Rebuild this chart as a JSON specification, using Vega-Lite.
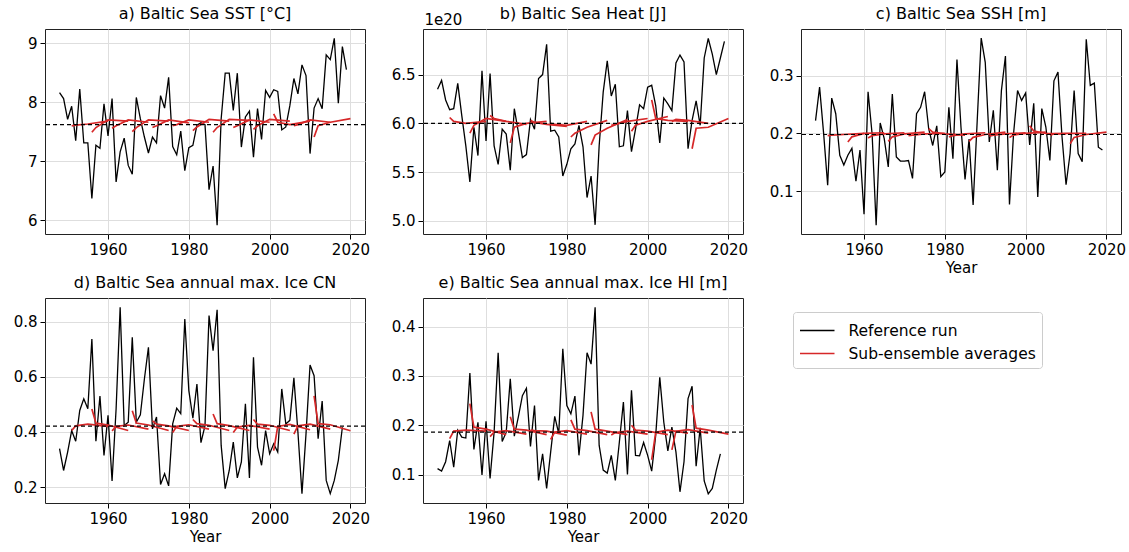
{
"$schema": "https://vega.github.io/schema/vega-lite/v6.json",
"padding": {"left": 12, "top": 5, "right": 5, "bottom": 5},
"config": {
  "font": "DejaVu Sans",
  "view": {"stroke": "#222222", "strokeWidth": 1},
  "title": {"font": "DejaVu Sans", "fontSize": 16, "fontWeight": "normal", "color": "black", "offset": 7, "baseline": "alphabetic"},
  "axis": {"labelFont": "DejaVu Sans", "labelFontSize": 15, "labelColor": "black", "tickColor": "black", "tickSize": 5, "tickWidth": 1, "labelPadding": 3, "domain": false, "grid": true, "gridColor": "#dedede", "gridWidth": 1, "titleFont": "DejaVu Sans", "titleFontSize": 15, "titleFontWeight": "normal", "titleColor": "black", "titlePadding": 3},
  "legend": {"orient": "none", "legendX": 748, "legendY": 283, "symbolType": "M-1,0L2,0", "symbolSize": 529, "symbolStrokeWidth": 1.5, "labelFont": "DejaVu Sans", "labelFontSize": 15.5, "labelColor": "black", "labelLimit": 400, "strokeColor": "#cccccc", "cornerRadius": 3, "padding": 6, "fillColor": "white", "rowPadding": 2, "labelOffset": 24.5}
},
"datasets": {
"ref": [
{"p":"a","yr":1948,"v":8.16},{"p":"a","yr":1949,"v":8.06},{"p":"a","yr":1950,"v":7.71},{"p":"a","yr":1951,"v":7.93},{"p":"a","yr":1952,"v":7.35},{"p":"a","yr":1953,"v":8.22},{"p":"a","yr":1954,"v":7.31},{"p":"a","yr":1955,"v":7.31},{"p":"a","yr":1956,"v":6.37},{"p":"a","yr":1957,"v":7.27},{"p":"a","yr":1958,"v":7.22},{"p":"a","yr":1959,"v":7.97},{"p":"a","yr":1960,"v":7.43},{"p":"a","yr":1961,"v":8.06},{"p":"a","yr":1962,"v":6.65},{"p":"a","yr":1963,"v":7.16},{"p":"a","yr":1964,"v":7.39},{"p":"a","yr":1965,"v":6.93},{"p":"a","yr":1966,"v":6.78},{"p":"a","yr":1967,"v":8.08},{"p":"a","yr":1968,"v":7.72},{"p":"a","yr":1969,"v":7.41},{"p":"a","yr":1970,"v":7.14},{"p":"a","yr":1971,"v":7.41},{"p":"a","yr":1972,"v":7.31},{"p":"a","yr":1973,"v":8.11},{"p":"a","yr":1974,"v":7.90},{"p":"a","yr":1975,"v":8.42},{"p":"a","yr":1976,"v":7.25},{"p":"a","yr":1977,"v":7.11},{"p":"a","yr":1978,"v":7.51},{"p":"a","yr":1979,"v":6.84},{"p":"a","yr":1980,"v":7.23},{"p":"a","yr":1981,"v":7.27},{"p":"a","yr":1982,"v":7.61},{"p":"a","yr":1983,"v":7.65},{"p":"a","yr":1984,"v":7.62},{"p":"a","yr":1985,"v":6.52},{"p":"a","yr":1986,"v":6.92},{"p":"a","yr":1987,"v":5.92},{"p":"a","yr":1988,"v":7.72},{"p":"a","yr":1989,"v":8.49},{"p":"a","yr":1990,"v":8.49},{"p":"a","yr":1991,"v":7.86},{"p":"a","yr":1992,"v":8.49},{"p":"a","yr":1993,"v":7.24},{"p":"a","yr":1994,"v":7.75},{"p":"a","yr":1995,"v":7.85},{"p":"a","yr":1996,"v":7.07},{"p":"a","yr":1997,"v":7.89},{"p":"a","yr":1998,"v":7.37},{"p":"a","yr":1999,"v":8.20},{"p":"a","yr":2000,"v":8.08},{"p":"a","yr":2001,"v":8.21},{"p":"a","yr":2002,"v":8.18},{"p":"a","yr":2003,"v":7.53},{"p":"a","yr":2004,"v":7.58},{"p":"a","yr":2005,"v":7.94},{"p":"a","yr":2006,"v":8.40},{"p":"a","yr":2007,"v":8.14},{"p":"a","yr":2008,"v":8.63},{"p":"a","yr":2009,"v":8.45},{"p":"a","yr":2010,"v":7.13},{"p":"a","yr":2011,"v":7.90},{"p":"a","yr":2012,"v":8.06},{"p":"a","yr":2013,"v":7.89},{"p":"a","yr":2014,"v":8.80},{"p":"a","yr":2015,"v":8.72},{"p":"a","yr":2016,"v":9.08},{"p":"a","yr":2017,"v":7.98},{"p":"a","yr":2018,"v":8.94},{"p":"a","yr":2019,"v":8.55},
{"p":"b","yr":1948,"v":6.35},{"p":"b","yr":1949,"v":6.44},{"p":"b","yr":1950,"v":6.24},{"p":"b","yr":1951,"v":6.14},{"p":"b","yr":1952,"v":6.15},{"p":"b","yr":1953,"v":6.41},{"p":"b","yr":1954,"v":6.08},{"p":"b","yr":1955,"v":5.77},{"p":"b","yr":1956,"v":5.40},{"p":"b","yr":1957,"v":5.96},{"p":"b","yr":1958,"v":5.67},{"p":"b","yr":1959,"v":6.54},{"p":"b","yr":1960,"v":5.82},{"p":"b","yr":1961,"v":6.51},{"p":"b","yr":1962,"v":5.77},{"p":"b","yr":1963,"v":5.58},{"p":"b","yr":1964,"v":5.94},{"p":"b","yr":1965,"v":5.89},{"p":"b","yr":1966,"v":5.52},{"p":"b","yr":1967,"v":6.15},{"p":"b","yr":1968,"v":5.91},{"p":"b","yr":1969,"v":5.65},{"p":"b","yr":1970,"v":5.68},{"p":"b","yr":1971,"v":6.04},{"p":"b","yr":1972,"v":5.94},{"p":"b","yr":1973,"v":6.46},{"p":"b","yr":1974,"v":6.50},{"p":"b","yr":1975,"v":6.81},{"p":"b","yr":1976,"v":5.92},{"p":"b","yr":1977,"v":5.93},{"p":"b","yr":1978,"v":5.86},{"p":"b","yr":1979,"v":5.46},{"p":"b","yr":1980,"v":5.58},{"p":"b","yr":1981,"v":5.74},{"p":"b","yr":1982,"v":5.79},{"p":"b","yr":1983,"v":5.98},{"p":"b","yr":1984,"v":5.76},{"p":"b","yr":1985,"v":5.24},{"p":"b","yr":1986,"v":5.46},{"p":"b","yr":1987,"v":4.96},{"p":"b","yr":1988,"v":5.77},{"p":"b","yr":1989,"v":6.32},{"p":"b","yr":1990,"v":6.64},{"p":"b","yr":1991,"v":6.28},{"p":"b","yr":1992,"v":6.40},{"p":"b","yr":1993,"v":5.76},{"p":"b","yr":1994,"v":5.77},{"p":"b","yr":1995,"v":6.13},{"p":"b","yr":1996,"v":5.71},{"p":"b","yr":1997,"v":5.94},{"p":"b","yr":1998,"v":6.19},{"p":"b","yr":1999,"v":6.15},{"p":"b","yr":2000,"v":6.37},{"p":"b","yr":2001,"v":6.39},{"p":"b","yr":2002,"v":6.18},{"p":"b","yr":2003,"v":5.80},{"p":"b","yr":2004,"v":6.26},{"p":"b","yr":2005,"v":6.20},{"p":"b","yr":2006,"v":6.13},{"p":"b","yr":2007,"v":6.62},{"p":"b","yr":2008,"v":6.70},{"p":"b","yr":2009,"v":6.63},{"p":"b","yr":2010,"v":5.74},{"p":"b","yr":2011,"v":6.03},{"p":"b","yr":2012,"v":6.23},{"p":"b","yr":2013,"v":5.98},{"p":"b","yr":2014,"v":6.67},{"p":"b","yr":2015,"v":6.87},{"p":"b","yr":2016,"v":6.71},{"p":"b","yr":2017,"v":6.50},{"p":"b","yr":2018,"v":6.67},{"p":"b","yr":2019,"v":6.84},
{"p":"c","yr":1948,"v":0.222},{"p":"c","yr":1949,"v":0.280},{"p":"c","yr":1950,"v":0.200},{"p":"c","yr":1951,"v":0.110},{"p":"c","yr":1952,"v":0.261},{"p":"c","yr":1953,"v":0.234},{"p":"c","yr":1954,"v":0.162},{"p":"c","yr":1955,"v":0.145},{"p":"c","yr":1956,"v":0.162},{"p":"c","yr":1957,"v":0.174},{"p":"c","yr":1958,"v":0.117},{"p":"c","yr":1959,"v":0.171},{"p":"c","yr":1960,"v":0.060},{"p":"c","yr":1961,"v":0.272},{"p":"c","yr":1962,"v":0.199},{"p":"c","yr":1963,"v":0.041},{"p":"c","yr":1964,"v":0.218},{"p":"c","yr":1965,"v":0.191},{"p":"c","yr":1966,"v":0.142},{"p":"c","yr":1967,"v":0.268},{"p":"c","yr":1968,"v":0.159},{"p":"c","yr":1969,"v":0.152},{"p":"c","yr":1970,"v":0.152},{"p":"c","yr":1971,"v":0.153},{"p":"c","yr":1972,"v":0.122},{"p":"c","yr":1973,"v":0.234},{"p":"c","yr":1974,"v":0.245},{"p":"c","yr":1975,"v":0.272},{"p":"c","yr":1976,"v":0.208},{"p":"c","yr":1977,"v":0.179},{"p":"c","yr":1978,"v":0.213},{"p":"c","yr":1979,"v":0.125},{"p":"c","yr":1980,"v":0.133},{"p":"c","yr":1981,"v":0.245},{"p":"c","yr":1982,"v":0.156},{"p":"c","yr":1983,"v":0.328},{"p":"c","yr":1984,"v":0.210},{"p":"c","yr":1985,"v":0.120},{"p":"c","yr":1986,"v":0.190},{"p":"c","yr":1987,"v":0.076},{"p":"c","yr":1988,"v":0.220},{"p":"c","yr":1989,"v":0.365},{"p":"c","yr":1990,"v":0.323},{"p":"c","yr":1991,"v":0.185},{"p":"c","yr":1992,"v":0.240},{"p":"c","yr":1993,"v":0.136},{"p":"c","yr":1994,"v":0.274},{"p":"c","yr":1995,"v":0.334},{"p":"c","yr":1996,"v":0.077},{"p":"c","yr":1997,"v":0.199},{"p":"c","yr":1998,"v":0.274},{"p":"c","yr":1999,"v":0.257},{"p":"c","yr":2000,"v":0.270},{"p":"c","yr":2001,"v":0.180},{"p":"c","yr":2002,"v":0.252},{"p":"c","yr":2003,"v":0.090},{"p":"c","yr":2004,"v":0.243},{"p":"c","yr":2005,"v":0.211},{"p":"c","yr":2006,"v":0.153},{"p":"c","yr":2007,"v":0.291},{"p":"c","yr":2008,"v":0.306},{"p":"c","yr":2009,"v":0.194},{"p":"c","yr":2010,"v":0.111},{"p":"c","yr":2011,"v":0.165},{"p":"c","yr":2012,"v":0.274},{"p":"c","yr":2013,"v":0.165},{"p":"c","yr":2014,"v":0.151},{"p":"c","yr":2015,"v":0.363},{"p":"c","yr":2016,"v":0.283},{"p":"c","yr":2017,"v":0.287},{"p":"c","yr":2018,"v":0.176},{"p":"c","yr":2019,"v":0.171},
{"p":"d","yr":1948,"v":0.339},{"p":"d","yr":1949,"v":0.260},{"p":"d","yr":1950,"v":0.327},{"p":"d","yr":1951,"v":0.405},{"p":"d","yr":1952,"v":0.366},{"p":"d","yr":1953,"v":0.478},{"p":"d","yr":1954,"v":0.520},{"p":"d","yr":1955,"v":0.484},{"p":"d","yr":1956,"v":0.737},{"p":"d","yr":1957,"v":0.366},{"p":"d","yr":1958,"v":0.530},{"p":"d","yr":1959,"v":0.315},{"p":"d","yr":1960,"v":0.460},{"p":"d","yr":1961,"v":0.222},{"p":"d","yr":1962,"v":0.484},{"p":"d","yr":1963,"v":0.852},{"p":"d","yr":1964,"v":0.423},{"p":"d","yr":1965,"v":0.435},{"p":"d","yr":1966,"v":0.743},{"p":"d","yr":1967,"v":0.435},{"p":"d","yr":1968,"v":0.462},{"p":"d","yr":1969,"v":0.592},{"p":"d","yr":1970,"v":0.707},{"p":"d","yr":1971,"v":0.411},{"p":"d","yr":1972,"v":0.454},{"p":"d","yr":1973,"v":0.209},{"p":"d","yr":1974,"v":0.248},{"p":"d","yr":1975,"v":0.204},{"p":"d","yr":1976,"v":0.429},{"p":"d","yr":1977,"v":0.486},{"p":"d","yr":1978,"v":0.466},{"p":"d","yr":1979,"v":0.810},{"p":"d","yr":1980,"v":0.550},{"p":"d","yr":1981,"v":0.450},{"p":"d","yr":1982,"v":0.574},{"p":"d","yr":1983,"v":0.361},{"p":"d","yr":1984,"v":0.423},{"p":"d","yr":1985,"v":0.822},{"p":"d","yr":1986,"v":0.695},{"p":"d","yr":1987,"v":0.843},{"p":"d","yr":1988,"v":0.351},{"p":"d","yr":1989,"v":0.194},{"p":"d","yr":1990,"v":0.260},{"p":"d","yr":1991,"v":0.363},{"p":"d","yr":1992,"v":0.233},{"p":"d","yr":1993,"v":0.291},{"p":"d","yr":1994,"v":0.502},{"p":"d","yr":1995,"v":0.233},{"p":"d","yr":1996,"v":0.671},{"p":"d","yr":1997,"v":0.345},{"p":"d","yr":1998,"v":0.279},{"p":"d","yr":1999,"v":0.405},{"p":"d","yr":2000,"v":0.321},{"p":"d","yr":2001,"v":0.357},{"p":"d","yr":2002,"v":0.327},{"p":"d","yr":2003,"v":0.556},{"p":"d","yr":2004,"v":0.429},{"p":"d","yr":2005,"v":0.442},{"p":"d","yr":2006,"v":0.596},{"p":"d","yr":2007,"v":0.399},{"p":"d","yr":2008,"v":0.176},{"p":"d","yr":2009,"v":0.393},{"p":"d","yr":2010,"v":0.643},{"p":"d","yr":2011,"v":0.604},{"p":"d","yr":2012,"v":0.375},{"p":"d","yr":2013,"v":0.512},{"p":"d","yr":2014,"v":0.224},{"p":"d","yr":2015,"v":0.176},{"p":"d","yr":2016,"v":0.224},{"p":"d","yr":2017,"v":0.297},{"p":"d","yr":2018,"v":0.417},
{"p":"e","yr":1948,"v":0.112},{"p":"e","yr":1949,"v":0.107},{"p":"e","yr":1950,"v":0.126},{"p":"e","yr":1951,"v":0.169},{"p":"e","yr":1952,"v":0.115},{"p":"e","yr":1953,"v":0.190},{"p":"e","yr":1954,"v":0.176},{"p":"e","yr":1955,"v":0.174},{"p":"e","yr":1956,"v":0.306},{"p":"e","yr":1957,"v":0.151},{"p":"e","yr":1958,"v":0.206},{"p":"e","yr":1959,"v":0.099},{"p":"e","yr":1960,"v":0.208},{"p":"e","yr":1961,"v":0.092},{"p":"e","yr":1962,"v":0.186},{"p":"e","yr":1963,"v":0.347},{"p":"e","yr":1964,"v":0.167},{"p":"e","yr":1965,"v":0.186},{"p":"e","yr":1966,"v":0.294},{"p":"e","yr":1967,"v":0.178},{"p":"e","yr":1968,"v":0.217},{"p":"e","yr":1969,"v":0.260},{"p":"e","yr":1970,"v":0.275},{"p":"e","yr":1971,"v":0.157},{"p":"e","yr":1972,"v":0.240},{"p":"e","yr":1973,"v":0.088},{"p":"e","yr":1974,"v":0.142},{"p":"e","yr":1975,"v":0.072},{"p":"e","yr":1976,"v":0.146},{"p":"e","yr":1977,"v":0.218},{"p":"e","yr":1978,"v":0.183},{"p":"e","yr":1979,"v":0.355},{"p":"e","yr":1980,"v":0.240},{"p":"e","yr":1981,"v":0.223},{"p":"e","yr":1982,"v":0.259},{"p":"e","yr":1983,"v":0.139},{"p":"e","yr":1984,"v":0.220},{"p":"e","yr":1985,"v":0.347},{"p":"e","yr":1986,"v":0.324},{"p":"e","yr":1987,"v":0.439},{"p":"e","yr":1988,"v":0.159},{"p":"e","yr":1989,"v":0.109},{"p":"e","yr":1990,"v":0.103},{"p":"e","yr":1991,"v":0.139},{"p":"e","yr":1992,"v":0.088},{"p":"e","yr":1993,"v":0.166},{"p":"e","yr":1994,"v":0.247},{"p":"e","yr":1995,"v":0.100},{"p":"e","yr":1996,"v":0.271},{"p":"e","yr":1997,"v":0.139},{"p":"e","yr":1998,"v":0.138},{"p":"e","yr":1999,"v":0.165},{"p":"e","yr":2000,"v":0.139},{"p":"e","yr":2001,"v":0.107},{"p":"e","yr":2002,"v":0.180},{"p":"e","yr":2003,"v":0.297},{"p":"e","yr":2004,"v":0.206},{"p":"e","yr":2005,"v":0.148},{"p":"e","yr":2006,"v":0.196},{"p":"e","yr":2007,"v":0.146},{"p":"e","yr":2008,"v":0.065},{"p":"e","yr":2009,"v":0.126},{"p":"e","yr":2010,"v":0.254},{"p":"e","yr":2011,"v":0.279},{"p":"e","yr":2012,"v":0.117},{"p":"e","yr":2013,"v":0.195},{"p":"e","yr":2014,"v":0.087},{"p":"e","yr":2015,"v":0.061},{"p":"e","yr":2016,"v":0.072},{"p":"e","yr":2017,"v":0.109},{"p":"e","yr":2018,"v":0.142}
],
"sub": [
{"p":"a","s":1951,"yr":1951,"v":7.60},{"p":"a","s":1951,"yr":1952,"v":7.61},{"p":"a","s":1951,"yr":1955,"v":7.63},{"p":"a","s":1951,"yr":1960,"v":7.68},
{"p":"a","s":1956,"yr":1956,"v":7.49},{"p":"a","s":1956,"yr":1957,"v":7.57},{"p":"a","s":1956,"yr":1960,"v":7.70},{"p":"a","s":1956,"yr":1965,"v":7.68},
{"p":"a","s":1961,"yr":1961,"v":7.56},{"p":"a","s":1961,"yr":1962,"v":7.60},{"p":"a","s":1961,"yr":1965,"v":7.70},{"p":"a","s":1961,"yr":1970,"v":7.66},
{"p":"a","s":1966,"yr":1966,"v":7.50},{"p":"a","s":1966,"yr":1967,"v":7.57},{"p":"a","s":1966,"yr":1970,"v":7.70},{"p":"a","s":1966,"yr":1975,"v":7.68},
{"p":"a","s":1971,"yr":1971,"v":7.57},{"p":"a","s":1971,"yr":1972,"v":7.60},{"p":"a","s":1971,"yr":1975,"v":7.70},{"p":"a","s":1971,"yr":1980,"v":7.65},
{"p":"a","s":1976,"yr":1976,"v":7.60},{"p":"a","s":1976,"yr":1977,"v":7.62},{"p":"a","s":1976,"yr":1980,"v":7.70},{"p":"a","s":1976,"yr":1985,"v":7.66},
{"p":"a","s":1981,"yr":1981,"v":7.52},{"p":"a","s":1981,"yr":1982,"v":7.58},{"p":"a","s":1981,"yr":1985,"v":7.71},{"p":"a","s":1981,"yr":1990,"v":7.68},
{"p":"a","s":1986,"yr":1986,"v":7.49},{"p":"a","s":1986,"yr":1987,"v":7.57},{"p":"a","s":1986,"yr":1990,"v":7.71},{"p":"a","s":1986,"yr":1995,"v":7.69},
{"p":"a","s":1991,"yr":1991,"v":7.57},{"p":"a","s":1991,"yr":1992,"v":7.60},{"p":"a","s":1991,"yr":1995,"v":7.70},{"p":"a","s":1991,"yr":2000,"v":7.66},
{"p":"a","s":1996,"yr":1996,"v":7.54},{"p":"a","s":1996,"yr":1997,"v":7.60},{"p":"a","s":1996,"yr":2000,"v":7.71},{"p":"a","s":1996,"yr":2005,"v":7.68},
{"p":"a","s":2001,"yr":2001,"v":7.80},{"p":"a","s":2001,"yr":2002,"v":7.66},{"p":"a","s":2001,"yr":2005,"v":7.62},{"p":"a","s":2001,"yr":2010,"v":7.68},
{"p":"a","s":2006,"yr":2006,"v":7.60},{"p":"a","s":2006,"yr":2007,"v":7.62},{"p":"a","s":2006,"yr":2010,"v":7.70},{"p":"a","s":2006,"yr":2015,"v":7.66},
{"p":"a","s":2011,"yr":2011,"v":7.41},{"p":"a","s":2011,"yr":2012,"v":7.60},{"p":"a","s":2011,"yr":2015,"v":7.66},{"p":"a","s":2011,"yr":2020,"v":7.72},
{"p":"b","s":1951,"yr":1951,"v":6.06},{"p":"b","s":1951,"yr":1952,"v":6.02},{"p":"b","s":1951,"yr":1955,"v":6.00},{"p":"b","s":1951,"yr":1960,"v":6.02},
{"p":"b","s":1956,"yr":1956,"v":5.90},{"p":"b","s":1956,"yr":1957,"v":5.98},{"p":"b","s":1956,"yr":1960,"v":6.05},{"p":"b","s":1956,"yr":1965,"v":6.02},
{"p":"b","s":1961,"yr":1961,"v":6.08},{"p":"b","s":1961,"yr":1962,"v":6.05},{"p":"b","s":1961,"yr":1965,"v":6.02},{"p":"b","s":1961,"yr":1970,"v":5.99},
{"p":"b","s":1966,"yr":1966,"v":5.80},{"p":"b","s":1966,"yr":1967,"v":5.96},{"p":"b","s":1966,"yr":1970,"v":6.00},{"p":"b","s":1966,"yr":1975,"v":6.02},
{"p":"b","s":1971,"yr":1971,"v":6.03},{"p":"b","s":1971,"yr":1972,"v":6.01},{"p":"b","s":1971,"yr":1975,"v":5.99},{"p":"b","s":1971,"yr":1980,"v":5.97},
{"p":"b","s":1976,"yr":1976,"v":6.00},{"p":"b","s":1976,"yr":1977,"v":5.99},{"p":"b","s":1976,"yr":1980,"v":5.98},{"p":"b","s":1976,"yr":1985,"v":6.02},
{"p":"b","s":1981,"yr":1981,"v":5.86},{"p":"b","s":1981,"yr":1982,"v":5.90},{"p":"b","s":1981,"yr":1985,"v":5.96},{"p":"b","s":1981,"yr":1990,"v":6.03},
{"p":"b","s":1986,"yr":1986,"v":5.78},{"p":"b","s":1986,"yr":1987,"v":5.88},{"p":"b","s":1986,"yr":1990,"v":5.95},{"p":"b","s":1986,"yr":1995,"v":6.04},
{"p":"b","s":1991,"yr":1991,"v":5.98},{"p":"b","s":1991,"yr":1992,"v":5.99},{"p":"b","s":1991,"yr":1995,"v":6.02},{"p":"b","s":1991,"yr":2000,"v":6.05},
{"p":"b","s":1996,"yr":1996,"v":5.92},{"p":"b","s":1996,"yr":1997,"v":5.98},{"p":"b","s":1996,"yr":2000,"v":6.02},{"p":"b","s":1996,"yr":2005,"v":6.07},
{"p":"b","s":2001,"yr":2001,"v":6.24},{"p":"b","s":2001,"yr":2002,"v":6.05},{"p":"b","s":2001,"yr":2005,"v":6.03},{"p":"b","s":2001,"yr":2010,"v":6.02},
{"p":"b","s":2006,"yr":2006,"v":6.02},{"p":"b","s":2006,"yr":2007,"v":6.04},{"p":"b","s":2006,"yr":2010,"v":6.03},{"p":"b","s":2006,"yr":2015,"v":6.00},
{"p":"b","s":2011,"yr":2011,"v":5.74},{"p":"b","s":2011,"yr":2012,"v":5.95},{"p":"b","s":2011,"yr":2015,"v":5.96},{"p":"b","s":2011,"yr":2020,"v":6.05},
{"p":"c","s":1951,"yr":1951,"v":0.196},{"p":"c","s":1951,"yr":1952,"v":0.197},{"p":"c","s":1951,"yr":1955,"v":0.198},{"p":"c","s":1951,"yr":1960,"v":0.200},
{"p":"c","s":1956,"yr":1956,"v":0.185},{"p":"c","s":1956,"yr":1957,"v":0.194},{"p":"c","s":1956,"yr":1960,"v":0.200},{"p":"c","s":1956,"yr":1965,"v":0.201},
{"p":"c","s":1961,"yr":1961,"v":0.192},{"p":"c","s":1961,"yr":1962,"v":0.196},{"p":"c","s":1961,"yr":1965,"v":0.199},{"p":"c","s":1961,"yr":1970,"v":0.201},
{"p":"c","s":1966,"yr":1966,"v":0.186},{"p":"c","s":1966,"yr":1967,"v":0.194},{"p":"c","s":1966,"yr":1970,"v":0.199},{"p":"c","s":1966,"yr":1975,"v":0.202},
{"p":"c","s":1971,"yr":1971,"v":0.196},{"p":"c","s":1971,"yr":1972,"v":0.197},{"p":"c","s":1971,"yr":1975,"v":0.199},{"p":"c","s":1971,"yr":1980,"v":0.200},
{"p":"c","s":1976,"yr":1976,"v":0.208},{"p":"c","s":1976,"yr":1977,"v":0.202},{"p":"c","s":1976,"yr":1980,"v":0.199},{"p":"c","s":1976,"yr":1985,"v":0.197},
{"p":"c","s":1981,"yr":1981,"v":0.194},{"p":"c","s":1981,"yr":1982,"v":0.196},{"p":"c","s":1981,"yr":1985,"v":0.199},{"p":"c","s":1981,"yr":1990,"v":0.201},
{"p":"c","s":1986,"yr":1986,"v":0.186},{"p":"c","s":1986,"yr":1987,"v":0.193},{"p":"c","s":1986,"yr":1990,"v":0.198},{"p":"c","s":1986,"yr":1995,"v":0.202},
{"p":"c","s":1991,"yr":1991,"v":0.195},{"p":"c","s":1991,"yr":1992,"v":0.197},{"p":"c","s":1991,"yr":1995,"v":0.199},{"p":"c","s":1991,"yr":2000,"v":0.201},
{"p":"c","s":1996,"yr":1996,"v":0.193},{"p":"c","s":1996,"yr":1997,"v":0.197},{"p":"c","s":1996,"yr":2000,"v":0.200},{"p":"c","s":1996,"yr":2005,"v":0.202},
{"p":"c","s":2001,"yr":2001,"v":0.213},{"p":"c","s":2001,"yr":2002,"v":0.204},{"p":"c","s":2001,"yr":2005,"v":0.200},{"p":"c","s":2001,"yr":2010,"v":0.199},
{"p":"c","s":2006,"yr":2006,"v":0.197},{"p":"c","s":2006,"yr":2007,"v":0.199},{"p":"c","s":2006,"yr":2010,"v":0.200},{"p":"c","s":2006,"yr":2015,"v":0.200},
{"p":"c","s":2011,"yr":2011,"v":0.182},{"p":"c","s":2011,"yr":2012,"v":0.193},{"p":"c","s":2011,"yr":2015,"v":0.198},{"p":"c","s":2011,"yr":2020,"v":0.202},
{"p":"d","s":1951,"yr":1951,"v":0.405},{"p":"d","s":1951,"yr":1952,"v":0.422},{"p":"d","s":1951,"yr":1955,"v":0.428},{"p":"d","s":1951,"yr":1960,"v":0.420},
{"p":"d","s":1956,"yr":1956,"v":0.483},{"p":"d","s":1956,"yr":1957,"v":0.432},{"p":"d","s":1956,"yr":1960,"v":0.425},{"p":"d","s":1956,"yr":1965,"v":0.405},
{"p":"d","s":1961,"yr":1961,"v":0.404},{"p":"d","s":1961,"yr":1962,"v":0.420},{"p":"d","s":1961,"yr":1965,"v":0.425},{"p":"d","s":1961,"yr":1970,"v":0.410},
{"p":"d","s":1966,"yr":1966,"v":0.477},{"p":"d","s":1966,"yr":1967,"v":0.432},{"p":"d","s":1966,"yr":1970,"v":0.425},{"p":"d","s":1966,"yr":1975,"v":0.405},
{"p":"d","s":1971,"yr":1971,"v":0.440},{"p":"d","s":1971,"yr":1972,"v":0.428},{"p":"d","s":1971,"yr":1975,"v":0.422},{"p":"d","s":1971,"yr":1980,"v":0.405},
{"p":"d","s":1976,"yr":1976,"v":0.398},{"p":"d","s":1976,"yr":1977,"v":0.420},{"p":"d","s":1976,"yr":1980,"v":0.426},{"p":"d","s":1976,"yr":1985,"v":0.410},
{"p":"d","s":1981,"yr":1981,"v":0.445},{"p":"d","s":1981,"yr":1982,"v":0.430},{"p":"d","s":1981,"yr":1985,"v":0.424},{"p":"d","s":1981,"yr":1990,"v":0.405},
{"p":"d","s":1986,"yr":1986,"v":0.465},{"p":"d","s":1986,"yr":1987,"v":0.430},{"p":"d","s":1986,"yr":1990,"v":0.423},{"p":"d","s":1986,"yr":1995,"v":0.405},
{"p":"d","s":1991,"yr":1991,"v":0.398},{"p":"d","s":1991,"yr":1992,"v":0.418},{"p":"d","s":1991,"yr":1995,"v":0.424},{"p":"d","s":1991,"yr":2000,"v":0.410},
{"p":"d","s":1996,"yr":1996,"v":0.445},{"p":"d","s":1996,"yr":1997,"v":0.428},{"p":"d","s":1996,"yr":2000,"v":0.424},{"p":"d","s":1996,"yr":2005,"v":0.405},
{"p":"d","s":2001,"yr":2001,"v":0.332},{"p":"d","s":2001,"yr":2002,"v":0.420},{"p":"d","s":2001,"yr":2005,"v":0.427},{"p":"d","s":2001,"yr":2010,"v":0.408},
{"p":"d","s":2006,"yr":2006,"v":0.392},{"p":"d","s":2006,"yr":2007,"v":0.422},{"p":"d","s":2006,"yr":2010,"v":0.428},{"p":"d","s":2006,"yr":2015,"v":0.410},
{"p":"d","s":2011,"yr":2011,"v":0.531},{"p":"d","s":2011,"yr":2012,"v":0.430},{"p":"d","s":2011,"yr":2015,"v":0.426},{"p":"d","s":2011,"yr":2020,"v":0.404},
{"p":"e","s":1951,"yr":1951,"v":0.173},{"p":"e","s":1951,"yr":1952,"v":0.188},{"p":"e","s":1951,"yr":1955,"v":0.190},{"p":"e","s":1951,"yr":1960,"v":0.188},
{"p":"e","s":1956,"yr":1956,"v":0.244},{"p":"e","s":1956,"yr":1957,"v":0.196},{"p":"e","s":1956,"yr":1960,"v":0.192},{"p":"e","s":1956,"yr":1965,"v":0.181},
{"p":"e","s":1961,"yr":1961,"v":0.177},{"p":"e","s":1961,"yr":1962,"v":0.186},{"p":"e","s":1961,"yr":1965,"v":0.189},{"p":"e","s":1961,"yr":1970,"v":0.182},
{"p":"e","s":1966,"yr":1966,"v":0.217},{"p":"e","s":1966,"yr":1967,"v":0.192},{"p":"e","s":1966,"yr":1970,"v":0.190},{"p":"e","s":1966,"yr":1975,"v":0.181},
{"p":"e","s":1971,"yr":1971,"v":0.190},{"p":"e","s":1971,"yr":1972,"v":0.189},{"p":"e","s":1971,"yr":1975,"v":0.188},{"p":"e","s":1971,"yr":1980,"v":0.180},
{"p":"e","s":1976,"yr":1976,"v":0.171},{"p":"e","s":1976,"yr":1977,"v":0.186},{"p":"e","s":1976,"yr":1980,"v":0.189},{"p":"e","s":1976,"yr":1985,"v":0.182},
{"p":"e","s":1981,"yr":1981,"v":0.211},{"p":"e","s":1981,"yr":1982,"v":0.192},{"p":"e","s":1981,"yr":1985,"v":0.189},{"p":"e","s":1981,"yr":1990,"v":0.181},
{"p":"e","s":1986,"yr":1986,"v":0.227},{"p":"e","s":1986,"yr":1987,"v":0.192},{"p":"e","s":1986,"yr":1990,"v":0.188},{"p":"e","s":1986,"yr":1995,"v":0.181},
{"p":"e","s":1991,"yr":1991,"v":0.180},{"p":"e","s":1991,"yr":1992,"v":0.185},{"p":"e","s":1991,"yr":1995,"v":0.188},{"p":"e","s":1991,"yr":2000,"v":0.182},
{"p":"e","s":1996,"yr":1996,"v":0.200},{"p":"e","s":1996,"yr":1997,"v":0.190},{"p":"e","s":1996,"yr":2000,"v":0.188},{"p":"e","s":1996,"yr":2005,"v":0.181},
{"p":"e","s":2001,"yr":2001,"v":0.130},{"p":"e","s":2001,"yr":2002,"v":0.186},{"p":"e","s":2001,"yr":2005,"v":0.190},{"p":"e","s":2001,"yr":2010,"v":0.184},
{"p":"e","s":2006,"yr":2006,"v":0.150},{"p":"e","s":2006,"yr":2007,"v":0.188},{"p":"e","s":2006,"yr":2010,"v":0.191},{"p":"e","s":2006,"yr":2015,"v":0.184},
{"p":"e","s":2011,"yr":2011,"v":0.241},{"p":"e","s":2011,"yr":2012,"v":0.194},{"p":"e","s":2011,"yr":2015,"v":0.190},{"p":"e","s":2011,"yr":2020,"v":0.182}
],
"mean": [{"p":"a","v":7.62},{"p":"b","v":6.0},{"p":"c","v":0.198},{"p":"d","v":0.421},{"p":"e","v":0.186}]
},
"columns": 3,
"spacing": {"row": 64, "column": 58},
"bounds": "flush",
"resolve": {"scale": {"color": "shared"}, "legend": {"color": "shared"}},
"concat": [
{"width": 320, "height": 205, "title": "a) Baltic Sea SST [°C]",
 "layer": [
  {"data": {"name": "ref"}, "transform": [{"filter": "datum.p == 'a'"}], "mark": {"type": "line", "strokeWidth": 1.3},
   "encoding": {"x": {"field": "yr", "type": "quantitative", "scale": {"domain": [1944.4, 2023.6], "nice": false, "zero": false}, "axis": {"values": [1960, 1980, 2000, 2020], "format": "d", "title": null}},
    "y": {"field": "v", "type": "quantitative", "scale": {"domain": [5.77, 9.237], "nice": false, "zero": false}, "axis": {"values": [6, 7, 8, 9], "format": "d", "title": null}},
    "color": {"datum": "Reference run", "scale": {"domain": ["Reference run", "Sub-ensemble averages"], "range": ["black", "#d62728"]}, "legend": {"title": null}}}},
  {"data": {"name": "sub"}, "transform": [{"filter": "datum.p == 'a'"}], "mark": {"type": "line", "strokeWidth": 1.7},
   "encoding": {"x": {"field": "yr", "type": "quantitative"}, "y": {"field": "v", "type": "quantitative"}, "detail": {"field": "s", "type": "nominal"}, "color": {"datum": "Sub-ensemble averages"}}},
  {"data": {"name": "mean"}, "transform": [{"filter": "datum.p == 'a'"}], "mark": {"type": "rule", "color": "black", "strokeDash": [4, 3], "strokeWidth": 1.2},
   "encoding": {"y": {"field": "v", "type": "quantitative"}}}
 ]},
{"width": 320, "height": 205, "title": {"text": "b) Baltic Sea Heat [J]", "offset": -10},
 "layer": [
  {"data": {"name": "ref"}, "transform": [{"filter": "datum.p == 'b'"}], "mark": {"type": "line", "strokeWidth": 1.3},
   "encoding": {"x": {"field": "yr", "type": "quantitative", "scale": {"domain": [1944.4, 2023.6], "nice": false, "zero": false}, "axis": {"values": [1960, 1980, 2000, 2020], "format": "d", "title": null}},
    "y": {"field": "v", "type": "quantitative", "scale": {"domain": [4.866, 6.967], "nice": false, "zero": false}, "axis": {"values": [5.0, 5.5, 6.0, 6.5], "format": ".1f", "title": "1e20", "titleAngle": 0, "titleAlign": "left", "titleBaseline": "alphabetic", "titleX": 1, "titleY": -5, "titleFontSize": 15}},
    "color": {"datum": "Reference run", "scale": {"domain": ["Reference run", "Sub-ensemble averages"], "range": ["black", "#d62728"]}, "legend": {"title": null}}}},
  {"data": {"name": "sub"}, "transform": [{"filter": "datum.p == 'b'"}], "mark": {"type": "line", "strokeWidth": 1.7},
   "encoding": {"x": {"field": "yr", "type": "quantitative"}, "y": {"field": "v", "type": "quantitative"}, "detail": {"field": "s", "type": "nominal"}, "color": {"datum": "Sub-ensemble averages"}}},
  {"data": {"name": "mean"}, "transform": [{"filter": "datum.p == 'b'"}], "mark": {"type": "rule", "color": "black", "strokeDash": [4, 3], "strokeWidth": 1.2},
   "encoding": {"y": {"field": "v", "type": "quantitative"}}}
 ]},
{"width": 320, "height": 205, "title": "c) Baltic Sea SSH [m]",
 "layer": [
  {"data": {"name": "ref"}, "transform": [{"filter": "datum.p == 'c'"}], "mark": {"type": "line", "strokeWidth": 1.3},
   "encoding": {"x": {"field": "yr", "type": "quantitative", "scale": {"domain": [1944.4, 2023.6], "nice": false, "zero": false}, "axis": {"values": [1960, 1980, 2000, 2020], "format": "d", "title": "Year"}},
    "y": {"field": "v", "type": "quantitative", "scale": {"domain": [0.0257, 0.3807], "nice": false, "zero": false}, "axis": {"values": [0.1, 0.2, 0.3], "format": ".1f", "title": null}},
    "color": {"datum": "Reference run", "scale": {"domain": ["Reference run", "Sub-ensemble averages"], "range": ["black", "#d62728"]}, "legend": {"title": null}}}},
  {"data": {"name": "sub"}, "transform": [{"filter": "datum.p == 'c'"}], "mark": {"type": "line", "strokeWidth": 1.7},
   "encoding": {"x": {"field": "yr", "type": "quantitative"}, "y": {"field": "v", "type": "quantitative"}, "detail": {"field": "s", "type": "nominal"}, "color": {"datum": "Sub-ensemble averages"}}},
  {"data": {"name": "mean"}, "transform": [{"filter": "datum.p == 'c'"}], "mark": {"type": "rule", "color": "black", "strokeDash": [4, 3], "strokeWidth": 1.2},
   "encoding": {"y": {"field": "v", "type": "quantitative"}}}
 ]},
{"width": 320, "height": 205, "title": "d) Baltic Sea annual max. Ice CN",
 "layer": [
  {"data": {"name": "ref"}, "transform": [{"filter": "datum.p == 'd'"}], "mark": {"type": "line", "strokeWidth": 1.3},
   "encoding": {"x": {"field": "yr", "type": "quantitative", "scale": {"domain": [1944.4, 2023.6], "nice": false, "zero": false}, "axis": {"values": [1960, 1980, 2000, 2020], "format": "d", "title": "Year"}},
    "y": {"field": "v", "type": "quantitative", "scale": {"domain": [0.142, 0.886], "nice": false, "zero": false}, "axis": {"values": [0.2, 0.4, 0.6, 0.8], "format": ".1f", "title": null}},
    "color": {"datum": "Reference run", "scale": {"domain": ["Reference run", "Sub-ensemble averages"], "range": ["black", "#d62728"]}, "legend": {"title": null}}}},
  {"data": {"name": "sub"}, "transform": [{"filter": "datum.p == 'd'"}], "mark": {"type": "line", "strokeWidth": 1.7},
   "encoding": {"x": {"field": "yr", "type": "quantitative"}, "y": {"field": "v", "type": "quantitative"}, "detail": {"field": "s", "type": "nominal"}, "color": {"datum": "Sub-ensemble averages"}}},
  {"data": {"name": "mean"}, "transform": [{"filter": "datum.p == 'd'"}], "mark": {"type": "rule", "color": "black", "strokeDash": [4, 3], "strokeWidth": 1.2},
   "encoding": {"y": {"field": "v", "type": "quantitative"}}}
 ]},
{"width": 320, "height": 205, "title": "e) Baltic Sea annual max. Ice HI [m]",
 "layer": [
  {"data": {"name": "ref"}, "transform": [{"filter": "datum.p == 'e'"}], "mark": {"type": "line", "strokeWidth": 1.3},
   "encoding": {"x": {"field": "yr", "type": "quantitative", "scale": {"domain": [1944.4, 2023.6], "nice": false, "zero": false}, "axis": {"values": [1960, 1980, 2000, 2020], "format": "d", "title": "Year"}},
    "y": {"field": "v", "type": "quantitative", "scale": {"domain": [0.0423, 0.458], "nice": false, "zero": false}, "axis": {"values": [0.1, 0.2, 0.3, 0.4], "format": ".1f", "title": null}},
    "color": {"datum": "Reference run", "scale": {"domain": ["Reference run", "Sub-ensemble averages"], "range": ["black", "#d62728"]}, "legend": {"title": null}}}},
  {"data": {"name": "sub"}, "transform": [{"filter": "datum.p == 'e'"}], "mark": {"type": "line", "strokeWidth": 1.7},
   "encoding": {"x": {"field": "yr", "type": "quantitative"}, "y": {"field": "v", "type": "quantitative"}, "detail": {"field": "s", "type": "nominal"}, "color": {"datum": "Sub-ensemble averages"}}},
  {"data": {"name": "mean"}, "transform": [{"filter": "datum.p == 'e'"}], "mark": {"type": "rule", "color": "black", "strokeDash": [4, 3], "strokeWidth": 1.2},
   "encoding": {"y": {"field": "v", "type": "quantitative"}}}
 ]}
]
}
